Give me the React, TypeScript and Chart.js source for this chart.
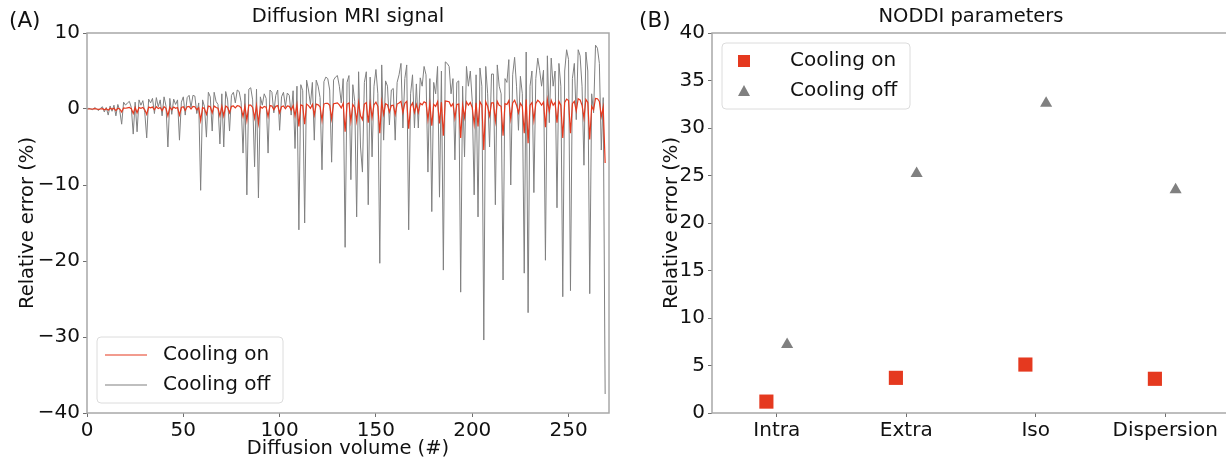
import React, { useEffect, useRef } from 'react';
import { Chart, registerables } from 'chart.js';

Chart.register(...registerables);

// ---------------- Panel A data: relative error of the diffusion MRI signal ----------------
const coolingOnSignal: number[] = [
  0, 0, 0, 0, 0.05, 0, -0.05, 0, 0.05, -0.1,
  0.05, -0.15, 0.1, -0.05, 0.1, -0.2, 0.1, 0, -0.4, 0.15,
  0.1, 0.15, 0.2, 0.05, -0.6, 0.2, -0.5, 0.2, 0.1, 0.2,
  -0.1, -0.7, 0.25, 0.15, 0.25, -0.1, 0.3, 0.05, 0.2, -0.2,
  0.3, 0.1, -0.9, 0.25, -0.1, 0.25, 0.1, 0.2, -0.8, 0.2,
  0.3, -0.2, 0.3, 0.35, 0, 0.35, 0.3, -0.1, 0.15, -1.5,
  0.2, 0.05, -0.7, 0.4, 0.3, -0.5, 0.4, 0.2, 0.1, -0.9,
  0.35, -0.9, 0.4, 0.2, -0.5, 0.35, 0.4, 0.15, 0.45, 0.4,
  0.15, -1.0, 0.35, -1.5, 0.5, 0.5, 0.2, -1.2, 0.45, -1.9,
  0.3, 0.1, 0.35, 0.25, -1.0, 0.45, 0.4, -0.1, 0.35, 0.45,
  -0.5, 0.3, 0.4, 0.05, 0.4, 0.35, -0.15, 0.45, -0.9, 0.55,
  -2.3, 0.55, 0.45, -2.0, 0.65, 0.45, 0.1, 0.6, -0.8, 0.65,
  0.55, 0.3, -1.5, 0.65, 0.75, 0.75, 0.5, -1.3, 0.7, 0.75,
  0.8, 0.55, 0.15, 0.75, -3.0, 0.65, 0.8, -1.6, 0.6, 0.2,
  -1.6, 0.85, -0.9, -1.4, 0.65, 0.85, -1.8, 0.75, -1.1, 0.55,
  0.9, 0.35, -3.2, 0.95, -0.7, 0.7, 0.55, -0.4, 0.45, 0.5,
  -0.7, 0.65, 0.8, 1.0, -0.45, 0.75, 1.0, -2.6, 0.35, 0.8,
  -0.45, 0.6, -0.45, 0.75, 0.55, 0.95, 0.8, -1.4, 0.7, -2.2,
  0.6, 0.35, 0.95, -1.9, 0.9, -3.5, 1.05, 1.0, 0.95, 0.35,
  0.7, -1.2, 0.6, 0.65, -3.8, 0.5, -1.1, 0.95, 0.5, 0.85,
  0.2, -2.0, 0.8, -2.3, 0.95, 0.5, -5.4, 0.95, 0.35, -0.9,
  0.8, 0.8, -1.6, 1.0, 0.5, 0.35, -3.5, 0.7, 0.6, 1.1,
  -1.3, 0.8, 1.15, 0.5, -0.5, 0.75, 0.35, -3.2, 1.25, -4.5,
  0.5, 0.85, -1.5, 0.7, 1.15, 0.9, 0.5, 0.9, -2.4, 1.2,
  -0.3, 1.15, 0.5, 0.85, -1.8, 1.0, 0.5, -3.8, 0.85, 1.3,
  1.1, -3.2, 0.7, 1.0, -0.25, 1.35, 1.2, 0.5, -1.2, 1.25,
  0.85, -4.0, 0.35, -0.1, 1.4, 1.35, 1.0, -1.0, 0.25, -7.1,
];

const coolingOffSignal: number[] = [
  0.0, 0.1, 0.0, -0.1, 0.2, 0.0, -0.2, 0.1, 0.3, -0.4,
  0.2, -0.8, 0.4, -0.3, 0.5, -0.9, 0.6, -0.2, -2.0, 0.9,
  0.5, 0.8, 1.0, 0.2, -3.3, 0.9, -3.0, 1.2, 0.5, 1.1,
  -0.5, -3.8, 1.3, 0.8, 1.4, -0.6, 1.5, 0.3, 1.2, -0.9,
  1.6, 0.4, -5.0, 1.4, -0.7, 1.3, 0.6, 1.2, -4.1, 0.9,
  1.6, -0.8, 1.5, 1.8, 0.2, 1.8, 1.7, -0.6, 0.8, -10.7,
  1.2, 0.3, -3.7, 2.2, 1.6, -2.9, 2.2, 1.0, 0.6, -4.6,
  2.0, -5.0, 2.3, 1.2, -2.9, 1.8, 2.2, 0.8, 2.5, 2.3,
  0.9, -5.8, 2.0, -11.3, 2.6, 2.8, 1.2, -7.6, 2.6, -11.7,
  1.6, 0.5, 2.0, 1.4, -5.8, 2.5, 2.2, -0.5, 1.8, 2.5,
  -2.8, 1.6, 2.2, 0.3, 2.1, 1.8, -0.8, 2.4, -5.2, 3.0,
  -15.9, 3.2, 2.4, -15.0, 3.8, 2.5, 0.6, 3.5, -4.1, 3.8,
  3.0, 1.5, -8.0, 3.6, 4.2, 4.0, 2.5, -7.0, 3.8, 4.2,
  4.4, 3.0, 0.8, 4.0, -18.2, 3.5, 4.4, -9.3, 3.2, 1.0,
  -14.2, 4.9, -5.0, -8.3, 3.5, 4.9, -12.6, 4.2, -6.3, 3.0,
  5.2, 2.0, -20.3, 5.8, -4.1, 3.7, 3.0, -2.1, 2.5, 2.7,
  -4.1, 3.5, 4.5, 6.0, -2.5, 4.0, 5.8, -15.9, 2.0, 4.5,
  -2.5, 3.3, -2.5, 4.1, 3.0, 5.6, 4.5, -8.3, 4.0, -13.5,
  3.5, 2.0, 5.6, -11.6, 5.0, -21.2, 6.2, 6.0, 5.6, 2.0,
  4.0, -6.7, 3.5, 3.7, -24.1, 3.0, -6.3, 5.6, 3.0, 5.0,
  1.0, -11.3, 4.5, -14.2, 5.4, 3.0, -30.4, 5.6, 2.0, -5.0,
  4.6, 4.6, -12.6, 5.8, 3.0, 2.0, -22.5, 4.0, 3.5, 6.5,
  -10.0, 4.5, 6.8, 3.0, -2.8, 4.3, 2.0, -21.6, 7.5, -26.8,
  3.0, 5.0, -11.0, 4.0, 6.7, 5.1, 3.0, 5.1, -19.9, 7.0,
  -1.8, 6.7, 3.0, 5.0, -13.0, 6.0, 3.0, -24.7, 5.0, 7.8,
  6.5, -23.9, 4.0, 6.0, -1.4, 7.8, 7.0, 3.0, -7.4, 7.5,
  5.0, -24.3, 2.0, -0.5, 8.4, 8.0, 6.0, -5.4, 1.5, -37.5,
];

const signalXTicks: number[] = [0, 50, 100, 150, 200, 250];
const signalYTicks: number[] = [-40, -30, -20, -10, 0, 10];
const signalXMax = 271;

// ---------------- Panel B data: NODDI parameter errors ----------------
const noddiCategories: string[] = ['Intra', 'Extra', 'Iso', 'Dispersion'];
const noddiCoolingOn: number[] = [1.2, 3.7, 5.1, 3.6];
const noddiCoolingOff: number[] = [7.2, 25.2, 32.6, 23.5];
const noddiYTicks: number[] = [0, 5, 10, 15, 20, 25, 30, 35, 40];

const seriesLabels: string[] = ['Cooling on', 'Cooling off'];

// ---------------- styles ----------------
const FONT = '"DejaVu Sans", "Liberation Sans", sans-serif';
const RED = '#e5391f';
const GRAY = '#808080';
const SPINE = '#a8a8a8';
const TICK = '#6e6e6e';
const TEXT = '#111111';
const FS = 20;
const TITLE_FS = 19.5;

const minus = (v: number | string) => String(v).replace('-', '\u2212');

const framePlugin = {
  id: 'frame',
  afterDraw(chart: any) {
    const { ctx, chartArea: a } = chart;
    ctx.save();
    ctx.strokeStyle = SPINE;
    ctx.lineWidth = 1.5;
    ctx.strokeRect(a.left, a.top, a.right - a.left, a.bottom - a.top);
    ctx.restore();
  },
};

function annotPlugin(letter: string, letterX: number, title: string) {
  return {
    id: 'annot',
    afterDraw(chart: any) {
      const { ctx, chartArea: a } = chart;
      ctx.save();
      ctx.fillStyle = TEXT;
      ctx.textBaseline = 'middle';
      ctx.font = `21.5px ${FONT}`;
      ctx.textAlign = 'left';
      ctx.fillText(letter, letterX, 21);
      ctx.font = `${TITLE_FS}px ${FONT}`;
      ctx.textAlign = 'center';
      ctx.fillText(title, (a.left + a.right) / 2, 17);
      ctx.restore();
    },
  };
}

function roundRect(ctx: CanvasRenderingContext2D, x: number, y: number, w: number, h: number, r: number) {
  ctx.beginPath();
  ctx.moveTo(x + r, y);
  ctx.lineTo(x + w - r, y);
  ctx.quadraticCurveTo(x + w, y, x + w, y + r);
  ctx.lineTo(x + w, y + h - r);
  ctx.quadraticCurveTo(x + w, y + h, x + w - r, y + h);
  ctx.lineTo(x + r, y + h);
  ctx.quadraticCurveTo(x, y + h, x, y + h - r);
  ctx.lineTo(x, y + r);
  ctx.quadraticCurveTo(x, y, x + r, y);
  ctx.closePath();
}

function legendPlugin(kind: 'line' | 'marker', anchor: 'bottomleft' | 'topleft') {
  return {
    id: 'customLegend',
    afterDraw(chart: any) {
      const { ctx, chartArea: a } = chart;
      const boxW = kind === 'line' ? 186 : 188;
      const boxH = 66;
      const x0 = a.left + 10;
      const y0 = anchor === 'bottomleft' ? a.bottom - 10 - boxH : a.top + 10;
      ctx.save();
      roundRect(ctx, x0, y0, boxW, boxH, 4);
      ctx.fillStyle = 'rgba(255,255,255,0.85)';
      ctx.fill();
      ctx.strokeStyle = '#dcdcdc';
      ctx.lineWidth = 1;
      ctx.stroke();
      const ds = chart.data.datasets;
      ctx.font = `${FS}px ${FONT}`;
      ctx.textBaseline = 'middle';
      ctx.textAlign = 'left';
      ds.forEach((d: any, i: number) => {
        const cy = y0 + 18 + i * 30;
        if (kind === 'line') {
          ctx.strokeStyle = d.borderColor;
          ctx.lineWidth = 1.2;
          ctx.beginPath();
          ctx.moveTo(x0 + 8, cy);
          ctx.lineTo(x0 + 50, cy);
          ctx.stroke();
          ctx.fillStyle = TEXT;
          ctx.fillText(d.label, x0 + 66, cy);
        } else {
          const mx = x0 + 22;
          ctx.fillStyle = d.backgroundColor;
          ctx.beginPath();
          if (d.pointStyle === 'rect') {
            ctx.rect(mx - 6, cy - 6, 12, 12);
          } else {
            ctx.moveTo(mx, cy - 6);
            ctx.lineTo(mx + 6, cy + 5);
            ctx.lineTo(mx - 6, cy + 5);
            ctx.closePath();
          }
          ctx.fill();
          ctx.fillStyle = TEXT;
          ctx.fillText(d.label, x0 + 68, cy);
        }
      });
      ctx.restore();
    },
  };
}

const tickFont = { family: FONT, size: FS };
const labelFont = { family: FONT, size: TITLE_FS };

function SignalChart() {
  const ref = useRef<HTMLCanvasElement | null>(null);
  useEffect(() => {
    if (!ref.current) return;
    const chart = new Chart(ref.current, {
      type: 'line',
      data: {
        datasets: [
          {
            label: seriesLabels[0],
            data: coolingOnSignal.map((y, i) => ({ x: i, y })),
            borderColor: RED,
            borderWidth: 1.2,
            pointRadius: 0,
            tension: 0,
          },
          {
            label: seriesLabels[1],
            data: coolingOffSignal.map((y, i) => ({ x: i, y })),
            borderColor: GRAY,
            borderWidth: 1,
            pointRadius: 0,
            tension: 0,
          },
        ],
      },
      options: {
        responsive: false,
        animation: false,
        devicePixelRatio: 1,
        layout: { padding: { top: 33, right: 11, left: 0, bottom: 0 } },
        plugins: { legend: { display: false }, tooltip: { enabled: false }, title: { display: false } },
        scales: {
          x: {
            type: 'linear',
            min: 0,
            max: signalXMax,
            afterBuildTicks: (s: any) => { s.ticks = signalXTicks.map((v) => ({ value: v })); },
            afterFit: (s: any) => { s.height = 47; },
            grid: { drawOnChartArea: false, drawTicks: true, tickLength: 4, color: TICK },
            border: { display: false },
            ticks: { font: tickFont, color: TEXT, maxRotation: 0, autoSkip: false, padding: 2, callback: (v: any) => minus(v) },
            title: { display: true, text: 'Diffusion volume (#)', font: labelFont, color: TEXT, padding: { top: 0, bottom: -1 } },
          },
          y: {
            type: 'linear',
            min: -40,
            max: 10,
            afterBuildTicks: (s: any) => { s.ticks = signalYTicks.map((v) => ({ value: v })); },
            afterFit: (s: any) => { s.width = 87; },
            grid: { drawOnChartArea: false, drawTicks: true, tickLength: 4, color: TICK },
            border: { display: false },
            ticks: { font: tickFont, color: TEXT, padding: 3, callback: (v: any) => minus(v) },
            title: { display: true, text: 'Relative error (%)', font: labelFont, color: TEXT, padding: { top: 16, bottom: 0 } },
          },
        },
      },
      plugins: [framePlugin, annotPlugin('(A)', 9, 'Diffusion MRI signal'), legendPlugin('line', 'bottomleft')],
    } as any);
    return () => chart.destroy();
  }, []);
  return <canvas ref={ref} width={620} height={460} style={{ position: 'absolute', left: 0, top: 0, width: 620, height: 460 }} />;
}

function NoddiChart() {
  const ref = useRef<HTMLCanvasElement | null>(null);
  useEffect(() => {
    if (!ref.current) return;
    const chart = new Chart(ref.current, {
      type: 'scatter',
      data: {
        datasets: [
          {
            label: seriesLabels[0],
            data: noddiCoolingOn.map((y, i) => ({ x: i - 0.08, y })),
            pointStyle: 'rect',
            pointRadius: 10,
            backgroundColor: RED,
            borderColor: RED,
            borderWidth: 0,
          },
          {
            label: seriesLabels[1],
            data: noddiCoolingOff.map((y, i) => ({ x: i + 0.08, y })),
            pointStyle: 'triangle',
            pointRadius: 7,
            backgroundColor: GRAY,
            borderColor: GRAY,
            borderWidth: 0,
          },
        ],
      },
      options: {
        responsive: false,
        animation: false,
        devicePixelRatio: 1,
        layout: { padding: { top: 33, right: 5, left: 0, bottom: 0 } },
        plugins: { legend: { display: false }, tooltip: { enabled: false }, title: { display: false } },
        scales: {
          x: {
            type: 'linear',
            min: -0.5,
            max: 3.5,
            afterBuildTicks: (s: any) => { s.ticks = noddiCategories.map((_, i) => ({ value: i })); },
            afterFit: (s: any) => { s.height = 47; },
            grid: { drawOnChartArea: false, drawTicks: true, tickLength: 4, color: TICK },
            border: { display: false },
            ticks: { font: tickFont, color: TEXT, maxRotation: 0, autoSkip: false, padding: 2, callback: (v: any) => noddiCategories[Math.round(Number(v))] },
          },
          y: {
            type: 'linear',
            min: 0,
            max: 40,
            afterBuildTicks: (s: any) => { s.ticks = noddiYTicks.map((v) => ({ value: v })); },
            afterFit: (s: any) => { s.width = 92; },
            grid: { drawOnChartArea: false, drawTicks: true, tickLength: 4, color: TICK },
            border: { display: false },
            ticks: { font: tickFont, color: TEXT, padding: 3 },
            title: { display: true, text: 'Relative error (%)', font: labelFont, color: TEXT, padding: { top: 40, bottom: 0 } },
          },
        },
      },
      plugins: [framePlugin, annotPlugin('(B)', 19, 'NODDI parameters'), legendPlugin('marker', 'topleft')],
    } as any);
    return () => chart.destroy();
  }, []);
  return <canvas ref={ref} width={620} height={460} style={{ position: 'absolute', left: 620, top: 0, width: 620, height: 460 }} />;
}

export default function App() {
  return (
    <div style={{ position: 'absolute', left: 0, top: 0, width: 1226, height: 460, overflow: 'hidden', background: '#ffffff' }}>
      <SignalChart />
      <NoddiChart />
    </div>
  );
}
